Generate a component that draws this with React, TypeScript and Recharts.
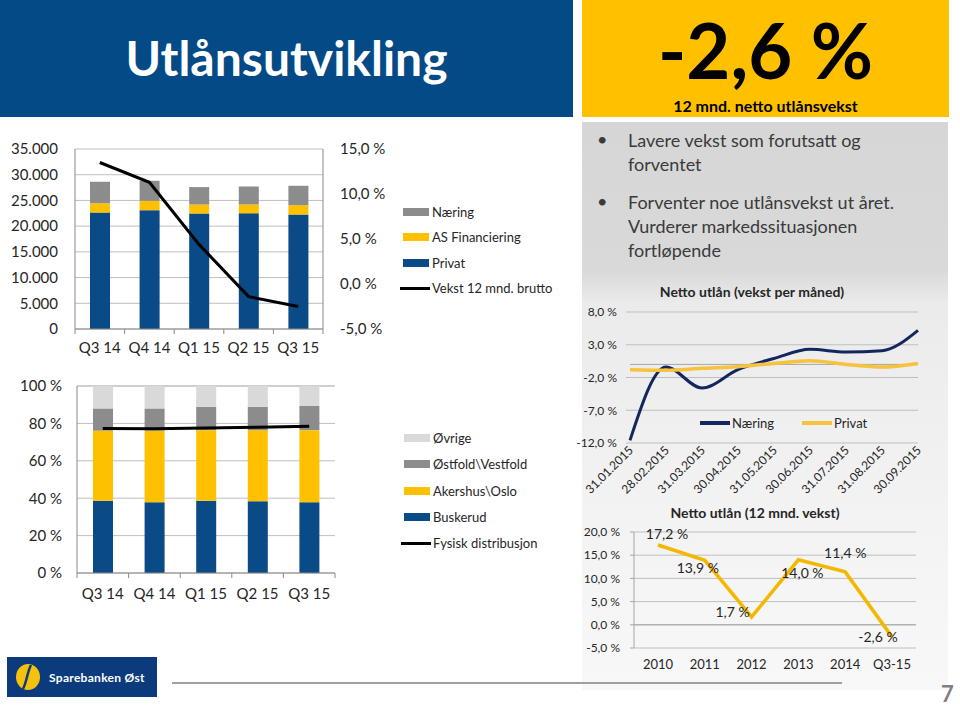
import React from 'react';
import {
  ComposedChart,
  LineChart,
  Bar,
  Line,
  XAxis,
  YAxis,
  CartesianGrid,
  Legend,
  ReferenceLine,
  LabelList,
} from 'recharts';

// ---------- DATA ----------
const quarters = ['Q3 14', 'Q4 14', 'Q1 15', 'Q2 15', 'Q3 15'];
const privat = [22640, 23100, 22450, 22510, 22250];
const asFinanciering = [1820, 1820, 1750, 1690, 1820];
const naering = [4170, 3900, 3390, 3520, 3780];
const vekst12mndBrutto = [13.5, 11.3, 4.4, -1.4, -2.5];

const buskerud = [38.6, 37.9, 38.6, 38.4, 37.9];
const akershusOslo = [37.5, 38.2, 37.8, 38.0, 38.5];
const ostfoldVestfold = [11.9, 11.9, 12.5, 12.5, 12.9];
const ovrige = [12.0, 12.0, 11.1, 11.1, 10.7];
const fysiskDistribusjon = [77.3, 77.2, 77.6, 78.0, 78.5];

const months = [
  '31.01.2015',
  '28.02.2015',
  '31.03.2015',
  '30.04.2015',
  '31.05.2015',
  '30.06.2015',
  '31.07.2015',
  '31.08.2015',
  '30.09.2015',
];
const naeringMnd = [-11.6, -0.4, -3.6, -0.8, 0.9, 2.3, 1.9, 2.1, 5.2];
const privatMnd = [-0.8, -0.9, -0.6, -0.35, 0.15, 0.55, 0.0, -0.4, 0.15];

const years = ['2010', '2011', '2012', '2013', '2014', 'Q3-15'];
const nettoUtlan12 = [17.2, 13.9, 1.7, 14.0, 11.4, -2.6];

const bulletTexts = [
  ['Lavere vekst som forutsatt og', 'forventet'],
  ['Forventer noe utlånsvekst ut året.', 'Vurderer markedssituasjonen', 'fortløpende'],
];

// ---------- tables ----------
const volumeData = quarters.map((q, i) => ({
  q,
  Privat: privat[i],
  'AS Financiering': asFinanciering[i],
  Næring: naering[i],
  'Vekst 12 mnd. brutto': vekst12mndBrutto[i],
}));
const regionData = quarters.map((q, i) => ({
  q,
  Buskerud: buskerud[i],
  'Akershus\\Oslo': akershusOslo[i],
  'Østfold\\Vestfold': ostfoldVestfold[i],
  Øvrige: ovrige[i],
  'Fysisk distribusjon': fysiskDistribusjon[i],
}));
const monthData = months.map((m, i) => ({ m, Næring: naeringMnd[i], Privat: privatMnd[i] }));
const yearData = years.map((y, i) => ({ y, v: nettoUtlan12[i] }));

// ---------- styles ----------
const FONT = 'Lato, "Open Sans", sans-serif';
const BLUE = '#0a4a86';
const YELLOW = '#ffc000';
const GRAY = '#8c8c8c';
const LIGHTGRAY = '#d9d9d9';
const TEXT = '#262626';
const GRID = '#bfbfbf';
const AXIS = '#8a8a8a';

const thousands = (v: number) => String(v).replace(/\B(?=(\d{3})+(?!\d))/g, '.');
const pct1 = (v: number) => `${v.toFixed(1).replace('.', ',')} %`;
const pct0 = (v: number) => `${v} %`;

const makeLegend = (order: string[], lineKeys: string[], rowH: number) => (props: any) => {
  const payload = props.payload || [];
  const items = order
    .map((n) => payload.find((p: any) => p.value === n || p.dataKey === n))
    .filter(Boolean);
  return (
    <div style={{ fontFamily: FONT, fontSize: 13, color: TEXT }}>
      {items.map((p: any) => {
        const isLine = lineKeys.includes(p.value);
        return (
          <div key={p.value} style={{ display: 'flex', alignItems: 'center', height: rowH }}>
            {isLine ? (
              <div style={{ width: 30, height: 3, background: p.color, marginRight: 2, marginLeft: -3 }} />
            ) : (
              <div style={{ width: 26, height: 8, background: p.color, marginRight: 3 }} />
            )}
            <span>{p.value}</span>
          </div>
        );
      })}
    </div>
  );
};

const InlineLegend = (props: any) => {
  const payload = props.payload || [];
  return (
    <div style={{ display: 'flex', fontFamily: FONT, fontSize: 13, color: TEXT }}>
      {payload.map((p: any) => (
        <div key={p.value} style={{ display: 'flex', alignItems: 'center', marginRight: 28 }}>
          <div style={{ width: 30, height: 4, background: p.color, marginRight: 2 }} />
          <span>{p.value}</span>
        </div>
      ))}
    </div>
  );
};

// category tick with Excel-like boundary tick marks
const makeBoundaryTick = (margin: number, count: number, fontSize: number) => (props: any) => {
  const { x, y, payload, index } = props;
  const half = payload && payload.offset ? payload.offset : 25;
  const axisY = y - margin;
  return (
    <g>
      <line x1={x - half} x2={x - half} y1={axisY} y2={axisY + 5} stroke={AXIS} />
      {index === count - 1 ? (
        <line x1={x + half} x2={x + half} y1={axisY} y2={axisY + 5} stroke={AXIS} />
      ) : null}
      <text x={x} y={y} dy="0.71em" textAnchor="middle" fontSize={fontSize} fontFamily={FONT} fill={TEXT}>
        {payload.value}
      </text>
    </g>
  );
};

const RotTick = (props: any) => {
  const { x, y, payload } = props;
  const ax = x + 4;
  const ay = y + 8;
  return (
    <text
      x={ax}
      y={ay}
      transform={`rotate(-45 ${ax} ${ay})`}
      textAnchor="end"
      fontSize={12}
      fontFamily={FONT}
      fill={TEXT}
    >
      {payload.value}
    </text>
  );
};

const labelOffsets = [
  [9, -11],
  [-7, 7],
  [-19, -5],
  [4, 13],
  [0, -19],
  [-14, 0],
];
const YearLabel = (props: any) => {
  const { x, y, value, index } = props;
  const [dx, dy] = labelOffsets[index] || [0, -10];
  return (
    <text
      x={x + dx}
      y={y + dy}
      textAnchor="middle"
      dominantBaseline="central"
      fontSize={14}
      fontFamily={FONT}
      fill={TEXT}
    >
      {pct1(value)}
    </text>
  );
};

const tickStyle = { fontFamily: FONT, fill: TEXT };

export default function App() {
  return (
    <div
      style={{
        position: 'absolute',
        left: 0,
        top: 0,
        width: 960,
        height: 706,
        background: '#fff',
        overflow: 'hidden',
        fontFamily: FONT,
      }}
    >
      {/* header blue */}
      <div
        style={{
          position: 'absolute',
          left: 0,
          top: 0,
          width: 573,
          height: 117,
          background: '#034a86',
          color: '#fff',
          display: 'flex',
          alignItems: 'center',
          justifyContent: 'center',
          fontSize: 48,
          fontWeight: 700,
        }}
      >
        <span style={{ marginTop: -2 }}>Utlånsutvikling</span>
      </div>
      {/* header yellow */}
      <div
        style={{
          position: 'absolute',
          left: 582,
          top: 0,
          width: 367,
          height: 117,
          background: YELLOW,
          color: '#000',
        }}
      >
        <div
          style={{
            position: 'absolute',
            left: 0,
            right: 0,
            top: 4,
            textAlign: 'center',
            fontSize: 76,
            fontWeight: 700,
            lineHeight: '92px',
          }}
        >
          -2,6 %
        </div>
        <div
          style={{
            position: 'absolute',
            left: 0,
            right: 0,
            top: 97,
            textAlign: 'center',
            fontSize: 16,
            lineHeight: '18px',
            fontWeight: 700,
          }}
        >
          12 mnd. netto utlånsvekst
        </div>
      </div>

      {/* right panel background */}
      <div
        style={{
          position: 'absolute',
          left: 582,
          top: 122,
          width: 366,
          height: 568,
          background: 'linear-gradient(180deg, #d6d6d6 0%, #d9d9d9 26%, #ebebeb 32%, #f3f3f3 70%, #f8f8f8 100%)',
        }}
      />
      {/* bullets */}
      <div style={{ position: 'absolute', left: 590, top: 128, width: 355, color: '#3a3a3a', fontSize: 18 }}>
        {bulletTexts.map((lines, i) => (
          <div key={i} style={{ display: 'flex', marginBottom: 14 }}>
            <div style={{ width: 31, paddingLeft: 7 }}>•</div>
            <div style={{ lineHeight: '24px' }}>
              {lines.map((l) => (
                <div key={l}>{l}</div>
              ))}
            </div>
          </div>
        ))}
      </div>

      {/* Chart A: volumes */}
      <div style={{ position: 'absolute', left: 0, top: 140 }}>
        <ComposedChart
          width={570}
          height={230}
          data={volumeData}
          margin={{ top: 9, right: 170, bottom: 0, left: 0 }}
          barCategoryGap={15}
        >
          <CartesianGrid yAxisId="l" vertical={false} stroke={GRID} />
          <XAxis
            dataKey="q"
            tickLine={false}
            axisLine={{ stroke: AXIS }}
            tickSize={0}
            tickMargin={13}
            height={41}
            tick={makeBoundaryTick(13, quarters.length, 15)}
            interval={0}
          />
          <YAxis
            yAxisId="l"
            domain={[0, 35000]}
            ticks={[0, 5000, 10000, 15000, 20000, 25000, 30000, 35000]}
            width={75}
            tickSize={0}
            tickMargin={17}
            axisLine={{ stroke: AXIS }}
            tickFormatter={thousands}
            tick={{ ...tickStyle, fontSize: 15 }}
            interval={0}
          />
          <YAxis
            yAxisId="r"
            orientation="right"
            domain={[-5, 15]}
            ticks={[-5, 0, 5, 10, 15]}
            width={77}
            tickSize={0}
            tickMargin={17}
            axisLine={{ stroke: AXIS }}
            tickFormatter={pct1}
            tick={{ ...tickStyle, fontSize: 15 }}
            interval={0}
          />
          <Bar yAxisId="l" dataKey="Privat" stackId="a" fill={BLUE} barSize={20} isAnimationActive={false} />
          <Bar yAxisId="l" dataKey="AS Financiering" stackId="a" fill={YELLOW} barSize={20} isAnimationActive={false} />
          <Bar yAxisId="l" dataKey="Næring" stackId="a" fill={GRAY} barSize={20} isAnimationActive={false} />
          <Line
            yAxisId="r"
            dataKey="Vekst 12 mnd. brutto"
            stroke="#000"
            strokeWidth={3}
            dot={false}
            isAnimationActive={false}
          />
          <Legend
            layout="horizontal"
            verticalAlign="middle"
            align="center"
            wrapperStyle={{ left: 403, top: 59, width: 170 }}
            content={makeLegend(['Næring', 'AS Financiering', 'Privat', 'Vekst 12 mnd. brutto'], ['Vekst 12 mnd. brutto'], 25.5)}
          />
        </ComposedChart>
      </div>

      {/* Chart B: regions */}
      <div style={{ position: 'absolute', left: 0, top: 376 }}>
        <ComposedChart
          width={570}
          height={240}
          data={regionData}
          margin={{ top: 10, right: 235, bottom: 0, left: 0 }}
          barCategoryGap={16}
        >
          <CartesianGrid vertical={false} stroke={GRID} />
          <XAxis
            dataKey="q"
            tickLine={false}
            axisLine={{ stroke: AXIS }}
            tickSize={0}
            tickMargin={15}
            height={43}
            tick={makeBoundaryTick(15, quarters.length, 15)}
            interval={0}
          />
          <YAxis
            domain={[0, 100]}
            ticks={[0, 20, 40, 60, 80, 100]}
            width={77}
            tickSize={0}
            tickMargin={15}
            axisLine={{ stroke: AXIS }}
            tickFormatter={pct0}
            tick={{ ...tickStyle, fontSize: 15 }}
            interval={0}
          />
          <Bar dataKey="Buskerud" stackId="a" fill={BLUE} barSize={20} isAnimationActive={false} />
          <Bar dataKey="Akershus\Oslo" stackId="a" fill={YELLOW} barSize={20} isAnimationActive={false} />
          <Bar dataKey="Østfold\Vestfold" stackId="a" fill={GRAY} barSize={20} isAnimationActive={false} />
          <Bar dataKey="Øvrige" stackId="a" fill={LIGHTGRAY} barSize={20} isAnimationActive={false} />
          <Line
            dataKey="Fysisk distribusjon"
            stroke="#000"
            strokeWidth={3}
            dot={false}
            isAnimationActive={false}
          />
          <Legend
            layout="horizontal"
            verticalAlign="middle"
            align="center"
            wrapperStyle={{ left: 404, top: 49, width: 170 }}
            content={makeLegend(
              ['Øvrige', 'Østfold\\Vestfold', 'Akershus\\Oslo', 'Buskerud', 'Fysisk distribusjon'],
              ['Fysisk distribusjon'],
              26.3
            )}
          />
        </ComposedChart>
      </div>

      {/* Chart C title */}
      <div
        style={{
          position: 'absolute',
          left: 582,
          width: 340,
          top: 283,
          textAlign: 'center',
          fontSize: 14,
          fontWeight: 700,
          color: TEXT,
        }}
      >
        Netto utlån (vekst per måned)
      </div>
      {/* Chart C */}
      <div style={{ position: 'absolute', left: 560, top: 300 }}>
        <LineChart width={390} height={200} data={monthData} margin={{ top: 12, right: 32, bottom: 0, left: 0 }}>
          <CartesianGrid vertical={false} stroke={GRID} />
          <XAxis
            dataKey="m"
            scale="point"
            padding={{ left: 0, right: 0 }}
            tickLine={false}
            axisLine={false}
            tickSize={0}
            tickMargin={0}
            height={57}
            tick={<RotTick />}
            interval={0}
          />
          <YAxis
            domain={[-12, 8]}
            ticks={[-12, -7, -2, 3, 8]}
            width={70}
            tickSize={4}
            tickMargin={9}
            axisLine={false}
            tickLine={{ stroke: GRID }}
            tickFormatter={pct1}
            tick={{ ...tickStyle, fontSize: 12 }}
            interval={0}
          />
          <ReferenceLine y={0} stroke="#a6a6a6" />
          <Line
            dataKey="Næring"
            type="monotone"
            stroke="#13275e"
            strokeWidth={3}
            dot={false}
            isAnimationActive={false}
          />
          <Line
            dataKey="Privat"
            type="monotone"
            stroke="#f7c23c"
            strokeWidth={3.5}
            dot={false}
            isAnimationActive={false}
          />
          <Legend
            layout="horizontal"
            verticalAlign="middle"
            align="center"
            wrapperStyle={{ left: 140, top: 115, width: 200 }}
            content={InlineLegend}
          />
        </LineChart>
      </div>

      {/* Chart D title */}
      <div
        style={{
          position: 'absolute',
          left: 582,
          width: 346,
          top: 504,
          textAlign: 'center',
          fontSize: 14,
          fontWeight: 700,
          color: TEXT,
        }}
      >
        Netto utlån (12 mnd. vekst)
      </div>
      {/* Chart D */}
      <div style={{ position: 'absolute', left: 560, top: 520 }}>
        <LineChart width={390} height={170} data={yearData} margin={{ top: 12, right: 34, bottom: 0, left: 0 }}>
          <CartesianGrid vertical={false} stroke={GRID} />
          <XAxis
            dataKey="y"
            scale="point"
            padding={{ left: 24, right: 24 }}
            tickLine={false}
            axisLine={false}
            tickSize={0}
            tickMargin={12}
            height={42}
            tick={{ ...tickStyle, fontSize: 13 }}
            interval={0}
          />
          <YAxis
            domain={[-5, 20]}
            ticks={[-5, 0, 5, 10, 15, 20]}
            width={74}
            tickSize={4}
            tickMargin={10}
            axisLine={{ stroke: '#a6a6a6' }}
            tickLine={{ stroke: '#a6a6a6' }}
            tickFormatter={pct1}
            tick={{ ...tickStyle, fontSize: 12 }}
            interval={0}
          />
          <ReferenceLine y={0} stroke="#a6a6a6" />
          <Line dataKey="v" stroke="#f5b800" strokeWidth={3.5} dot={false} isAnimationActive={false}>
            <LabelList dataKey="v" content={<YearLabel />} />
          </Line>
        </LineChart>
      </div>

      {/* footer line */}
      <div style={{ position: 'absolute', left: 172, top: 682, width: 670, height: 2, background: '#a0a0a0' }} />

      {/* logo */}
      <div
        style={{
          position: 'absolute',
          left: 7,
          top: 657,
          width: 150,
          height: 40,
          background: '#0b3b7d',
          display: 'flex',
          alignItems: 'center',
        }}
      >
        <svg width={40} height={40} viewBox="0 0 40 40">
          <ellipse cx={21} cy={20} rx={12} ry={13} fill="#f4c20d" />
          <path d="M24 8 C 20 16, 20 24, 16 32" stroke="#0b3b7d" strokeWidth={2.5} fill="none" />
        </svg>
        <span style={{ color: '#fff', fontSize: 12, fontWeight: 700, marginLeft: 2, letterSpacing: 0.3 }}>
          Sparebanken Øst
        </span>
      </div>

      {/* page number */}
      <div style={{ position: 'absolute', left: 941, top: 680, fontSize: 22, fontWeight: 700, color: '#7f7f7f' }}>7</div>
    </div>
  );
}
